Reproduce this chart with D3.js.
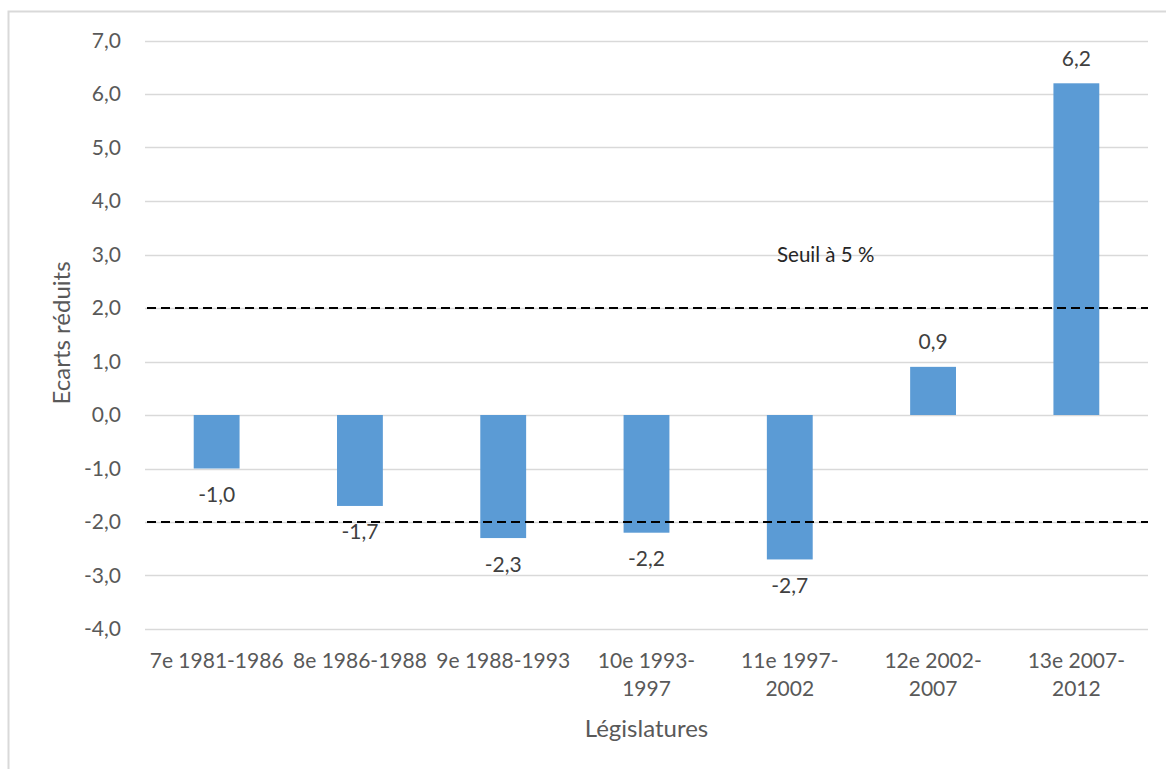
<!DOCTYPE html>
<html><head><meta charset="utf-8">
<script src="https://cdn.jsdelivr.net/npm/d3@7"></script>
<style>body{margin:0;background:#fff;} svg{display:block;font-family:Lato, "Open Sans", sans-serif;}</style>
</head><body>
<svg id="c" width="1166" height="769"></svg>
<script>
const categories = [["7e 1981-1986"],["8e 1986-1988"],["9e 1988-1993"],["10e 1993-","1997"],["11e 1997-","2002"],["12e 2002-","2007"],["13e 2007-","2012"]];
const values = [-1.0, -1.7, -2.3, -2.2, -2.7, 0.9, 6.2];
const yTicks = [-4,-3,-2,-1,0,1,2,3,4,5,6,7];
const thresholds = [2, -2];
const thresholdLabel = "Seuil à 5 %";
const yTitle = "Ecarts réduits";
const xTitle = "Législatures";

const svg = d3.select("#c");
const fmt = v => d3.format(".1f")(v).replace(".", ",").replace("−","-");

svg.append("rect").attr("x",8.5).attr("y",11.5).attr("width",1200).attr("height",800)
  .attr("fill","none").attr("stroke","#d9d9d9").attr("stroke-width",2);

const left = 145, right = 1148;
const x = d3.scaleBand().domain(d3.range(categories.length)).range([left, right]).paddingInner(0.68).paddingOuter(0.34);
const y = d3.scaleLinear().domain([-4, 7]).range([629, 40.5]);

// gridlines
svg.append("g").selectAll("line").data(yTicks).join("line")
  .attr("x1", left).attr("x2", right)
  .attr("y1", d => Math.round(y(d))+0.5).attr("y2", d => Math.round(y(d))+0.5)
  .attr("stroke","#d9d9d9").attr("stroke-width",1.5);

// y axis labels
const yAxis = d3.axisLeft(y).tickValues(yTicks).tickFormat(fmt).tickSize(0).tickPadding(0);
const ya = svg.append("g").attr("transform", `translate(${left-24},0)`).call(yAxis);
ya.select(".domain").remove();
ya.selectAll("text").attr("font-size",21).attr("fill","#595959").attr("font-family","Lato, sans-serif");

// bars
svg.append("g").selectAll("rect").data(values).join("rect")
  .attr("x", (d,i) => x(i)).attr("width", x.bandwidth())
  .attr("y", d => y(Math.max(0,d))).attr("height", d => Math.abs(y(d)-y(0)))
  .attr("fill","#5b9bd5");

// threshold lines
svg.append("g").selectAll("line").data(thresholds).join("line")
  .attr("x1", left+2).attr("x2", right)
  .attr("y1", d => y(d)).attr("y2", d => y(d))
  .attr("stroke","#000").attr("stroke-width",2).attr("stroke-dasharray","9,5");

// data labels
svg.append("g").selectAll("text").data(values).join("text")
  .attr("x", (d,i) => x(i)+x.bandwidth()/2)
  .attr("y", d => d >= 0 ? y(d)-17.5 : y(d)+33.5)
  .attr("text-anchor","middle").attr("font-size",21).attr("fill","#404040")
  .text(fmt);

// threshold label
svg.append("text").attr("x",777).attr("y",262).attr("font-size",20.5).attr("fill","#262626").text(thresholdLabel);

// x category labels
const xl = svg.append("g").selectAll("text").data(categories).join("text")
  .attr("text-anchor","middle").attr("font-size",21).attr("fill","#595959")
  .attr("transform",(d,i) => `translate(${x(i)+x.bandwidth()/2},668)`);
xl.selectAll("tspan").data(d => d).join("tspan").attr("x",0).attr("dy",(d,j)=> j===0?0:28).text(d=>d);

// axis titles
svg.append("text").attr("x", (left+right)/2).attr("y",737).attr("text-anchor","middle")
  .attr("font-size",24).attr("fill","#595959").text(xTitle);
svg.append("text").attr("transform","translate(70,333) rotate(-90)").attr("text-anchor","middle")
  .attr("font-size",24).attr("fill","#595959").text(yTitle);
</script>
</body></html>
